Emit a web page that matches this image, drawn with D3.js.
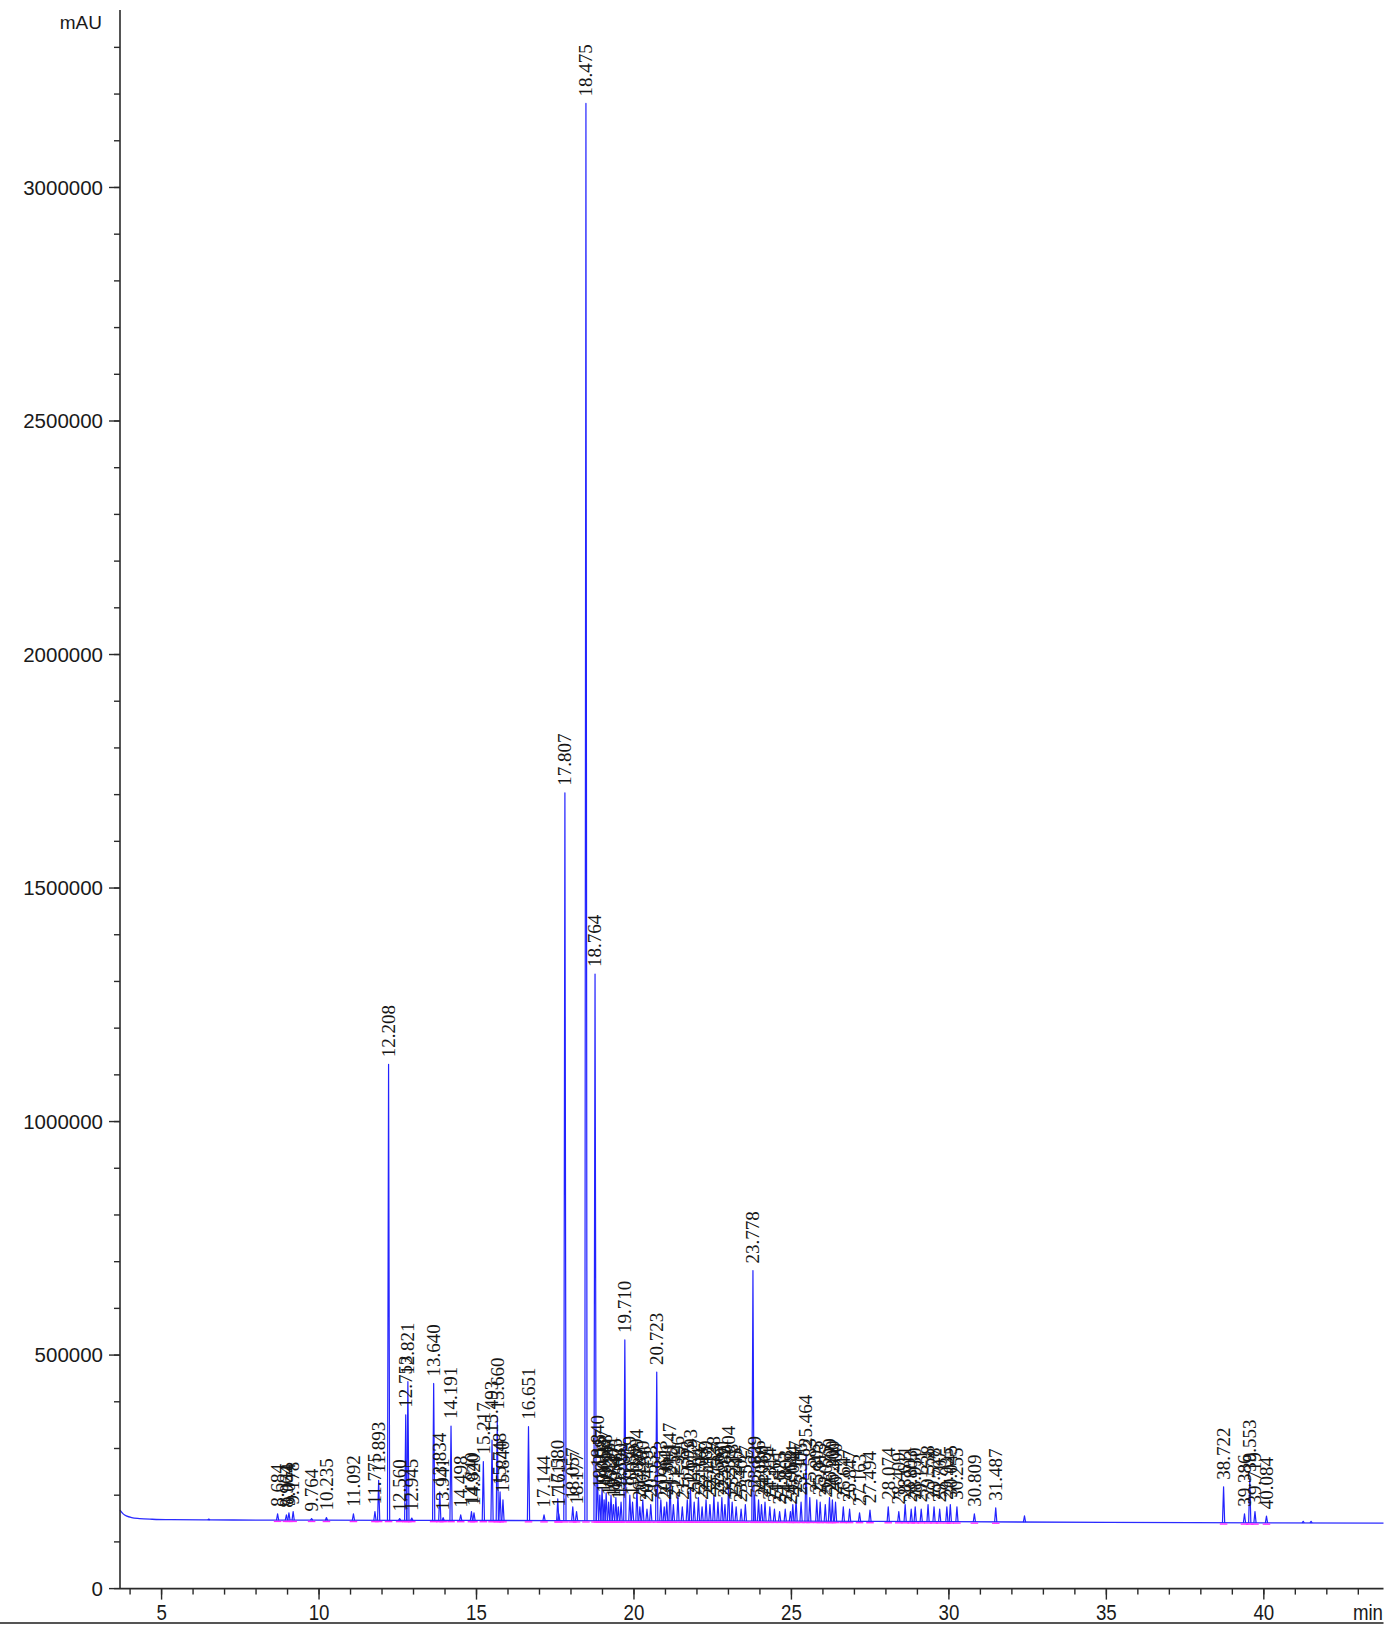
<!DOCTYPE html>
<html>
<head>
<meta charset="utf-8">
<script src="https://cdn.jsdelivr.net/npm/d3@7"></script>
<style>
  html, body { margin: 0; padding: 0; background: #fff; }
  svg { display: block; }
</style>
</head>
<body>
<svg id="chart" width="1399" height="1625"></svg>
<script>
// ---------------- DATA ----------------
// slowly drifting detector baseline (time in min, signal in mAU)
const baselineTime  = [3.68, 3.78, 3.9, 4.05, 4.3, 4.7, 5.3, 6.5, 8, 10, 15, 20, 25, 30, 35, 40, 43.8];
const baselineValue = [168000, 160000, 155000, 152000, 150000, 148500, 147500, 147000, 146800, 146500, 146000, 145200, 144500, 143200, 141800, 140800, 140300];

// labelled peaks: retention time (min) and apex height (mAU)
const peakTimes = [
  8.684, 8.964, 9.044, 9.178, 9.764, 10.235, 11.092, 11.775, 11.893, 12.208,
  12.560, 12.753, 12.821, 12.945, 13.640, 13.834, 13.941, 14.191, 14.498, 14.840,
  14.920, 15.217, 15.493, 15.660, 15.748, 15.840, 16.651, 17.144, 17.580, 17.611,
  17.807, 18.057, 18.177, 18.475, 18.764, 18.840, 18.915, 18.987, 19.052, 19.118,
  19.196, 19.271, 19.347, 19.425, 19.503, 19.590, 19.710, 19.869, 19.955, 20.094,
  20.187, 20.280, 20.413, 20.533, 20.723, 20.853, 20.961, 21.041, 21.147, 21.252,
  21.396, 21.535, 21.693, 21.793, 21.912, 22.047, 22.163, 22.289, 22.412, 22.538,
  22.667, 22.791, 22.889, 23.004, 23.118, 23.245, 23.402, 23.537, 23.778, 23.829,
  23.956, 24.050, 24.161, 24.314, 24.461, 24.625, 24.803, 24.968, 25.044, 25.147,
  25.306, 25.464, 25.583, 25.805, 25.913, 26.075, 26.209, 26.300, 26.400, 26.647,
  26.847, 27.163, 27.494, 28.074, 28.409, 28.611, 28.803, 28.930, 29.121, 29.338,
  29.528, 29.707, 29.935, 30.045, 30.255, 30.809, 31.487, 38.722, 39.386, 39.553,
  39.719, 40.084
];
const peakHeights = [
  160000, 158000, 162000, 165000, 150000, 152000, 160000, 165000, 232000, 1122700,
  150000, 372000, 443000, 151000, 439200, 207000, 152000, 348000, 158000, 165000,
  162000, 272000, 318000, 368000, 207000, 190000, 346700, 158000, 192000, 160000,
  1704000, 175000, 165000, 3180000, 1315800, 245000, 200000, 215000, 190000, 205000,
  185000, 200000, 180000, 195000, 175000, 185000, 532500, 200000, 185000, 215000,
  175000, 190000, 170000, 180000, 463600, 190000, 175000, 185000, 228000, 180000,
  200000, 175000, 190000, 215000, 185000, 195000, 175000, 190000, 180000, 200000,
  185000, 195000, 180000, 222000, 185000, 175000, 170000, 180000, 681000, 200000,
  190000, 180000, 185000, 175000, 170000, 165000, 170000, 165000, 180000, 190000,
  185000, 288000, 195000, 190000, 185000, 180000, 195000, 190000, 185000, 175000,
  170000, 162000, 168000, 175000, 165000, 180000, 170000, 175000, 170000, 180000,
  175000, 170000, 175000, 180000, 175000, 160000, 173000, 218000, 160000, 235000,
  165000, 155000
];
// small unlabelled blips
const blipTimes   = [6.5, 32.4, 41.25, 41.5];
const blipHeights = [149000, 156000, 144000, 144000];

const yMajorTicks = [0, 500000, 1000000, 1500000, 2000000, 2500000, 3000000];
const xMajorTicks = [5, 10, 15, 20, 25, 30, 35, 40];
const yUnit = "mAU";
const xUnit = "min";

// ---------------- CHART ----------------
const svg = d3.select("#chart");
const x = d3.scaleLinear().domain([3.68, 43.8]).range([120, 1383.5]);
const y = d3.scaleLinear().domain([0, 3380000]).range([1588.6, 10]);
const base = d3.scaleLinear().domain(baselineTime).range(baselineValue).clamp(true);

const halfW = 0.035;

// baseline trace
svg.append("path")
  .datum(baselineTime.map((t, i) => [t, baselineValue[i]]))
  .attr("fill", "none").attr("stroke", "#2b2bff").attr("stroke-width", 1.3)
  .attr("d", d3.line().x(d => x(d[0])).y(d => y(d[1])).curve(d3.curveMonotoneX));

// integration baselines (magenta)
svg.append("g").selectAll("line").data(peakTimes).join("line")
  .attr("x1", t => x(t - 0.12)).attr("x2", t => x(t + 0.12))
  .attr("y1", t => y(base(t)) + 1.3).attr("y2", t => y(base(t)) + 1.3)
  .attr("stroke", "#ff2bff").attr("stroke-width", 1.4);

// peaks
const peakLine = d3.line().x(d => x(d[0])).y(d => y(d[1]));
const allPeaks = peakTimes.map((t, i) => [t, peakHeights[i]])
  .concat(blipTimes.map((t, i) => [t, blipHeights[i]]));
svg.append("g").selectAll("path").data(allPeaks).join("path")
  .attr("fill", "none").attr("stroke", "#2323ff").attr("stroke-width", 1.2)
  .attr("stroke-linejoin", "round")
  .attr("d", d => peakLine([[d[0] - halfW, base(d[0] - halfW)], [d[0], d[1]], [d[0] + halfW, base(d[0] + halfW)]]));

// peak labels
const fmt = d3.format(".3f");
svg.append("g").selectAll("text").data(peakTimes).join("text")
  .attr("transform", (t, i) => `translate(${x(t)},${y(peakHeights[i]) - 7}) rotate(-90)`)
  .attr("dy", "0.33em")
  .attr("font-family", "'Liberation Serif', 'Times New Roman', serif")
  .attr("font-size", 19)
  .attr("fill", "#161616")
  .text(t => fmt(t));

// Y axis
const axisColor = "#2a2a2a";
const gy = svg.append("g");
gy.append("line").attr("x1", 120).attr("x2", 120).attr("y1", y.range()[1]).attr("y2", y(0))
  .attr("stroke", axisColor).attr("stroke-width", 1.6);
const yMinor = d3.range(0, 3380000, 100000);
gy.selectAll("line.minor").data(yMinor).join("line").attr("class", "minor")
  .attr("x1", 114).attr("x2", 120).attr("y1", d => y(d)).attr("y2", d => y(d))
  .attr("stroke", axisColor).attr("stroke-width", 1.4);
gy.selectAll("line.major").data(yMajorTicks).join("line").attr("class", "major")
  .attr("x1", 109).attr("x2", 120).attr("y1", d => y(d)).attr("y2", d => y(d))
  .attr("stroke", axisColor).attr("stroke-width", 1.4);
gy.selectAll("text").data(yMajorTicks).join("text")
  .attr("x", 103).attr("y", d => y(d)).attr("dy", "0.36em")
  .attr("text-anchor", "end")
  .attr("font-family", "'Liberation Sans', Arial, sans-serif").attr("font-size", 20.5)
  .attr("fill", "#1a1a1a")
  .text(d => String(d));
svg.append("text").attr("x", 102).attr("y", 29).attr("text-anchor", "end")
  .attr("font-family", "'Liberation Sans', Arial, sans-serif").attr("font-size", 19)
  .attr("fill", "#1a1a1a").text(yUnit);

// X axis
const gx = svg.append("g");
gx.append("line").attr("x1", 120).attr("x2", 1383.5).attr("y1", y(0)).attr("y2", y(0))
  .attr("stroke", axisColor).attr("stroke-width", 1.6);
const xMinor = d3.range(4, 44, 1);
gx.selectAll("line.minor").data(xMinor).join("line").attr("class", "minor")
  .attr("x1", d => x(d)).attr("x2", d => x(d)).attr("y1", y(0)).attr("y2", y(0) + 6)
  .attr("stroke", axisColor).attr("stroke-width", 1.4);
gx.selectAll("line.major").data(xMajorTicks).join("line").attr("class", "major")
  .attr("x1", d => x(d)).attr("x2", d => x(d)).attr("y1", y(0)).attr("y2", y(0) + 11)
  .attr("stroke", axisColor).attr("stroke-width", 1.4);
gx.selectAll("text").data(xMajorTicks).join("text")
  .attr("transform", d => `translate(${x(d)},1620) scale(0.85,1)`)
  .attr("text-anchor", "middle")
  .attr("font-family", "'Liberation Sans', Arial, sans-serif").attr("font-size", 22)
  .attr("fill", "#1a1a1a")
  .text(d => String(d));
svg.append("text").attr("transform", "translate(1383,1620) scale(0.85,1)").attr("text-anchor", "end")
  .attr("font-family", "'Liberation Sans', Arial, sans-serif").attr("font-size", 22)
  .attr("fill", "#1a1a1a").text(xUnit);

// bottom frame line
svg.append("line").attr("x1", 0).attr("x2", 1383.5).attr("y1", 1623).attr("y2", 1623)
  .attr("stroke", "#555").attr("stroke-width", 2);
</script>
</body>
</html>
